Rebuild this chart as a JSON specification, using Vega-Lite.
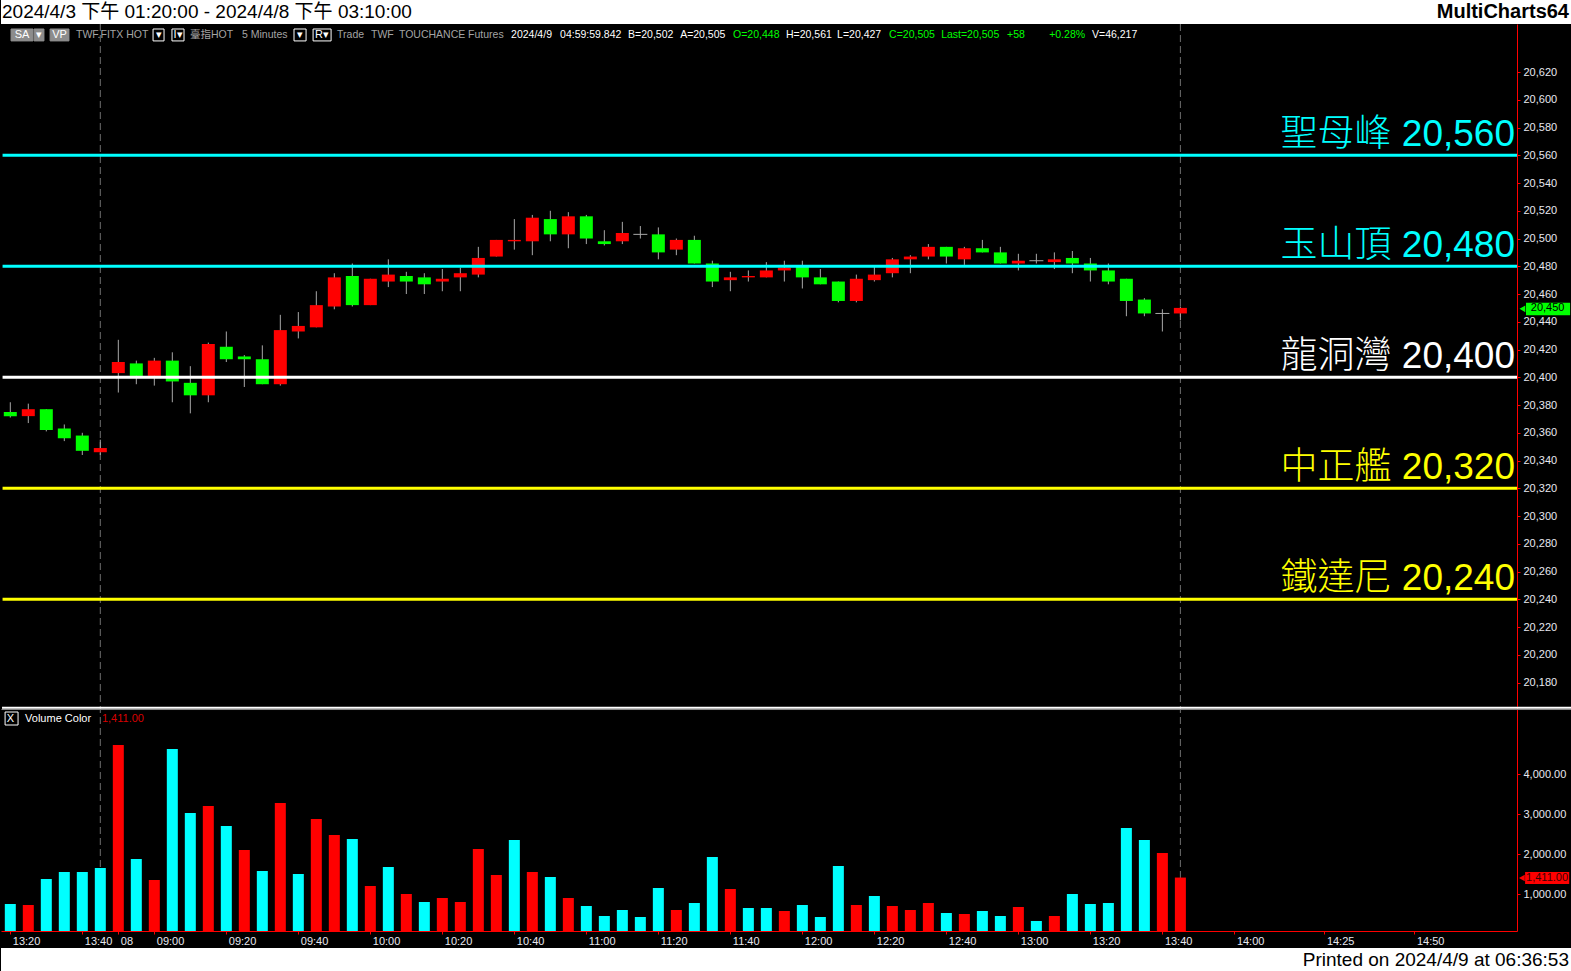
{
  "$schema": "https://vega.github.io/schema/vega-lite/v6.json",
  "background": "#000000",
  "padding": 0,
  "spacing": 0,
  "bounds": "flush",
  "config": {
    "view": {"stroke": null},
    "scale": {"continuousPadding": 0},
    "axis": {"labelOverlap": false, "grid": false, "title": null},
    "font": "Liberation Sans",
    "text": {"font": "Liberation Sans, Noto Sans CJK TC"}
  },
  "datasets": {
    "bars": [
      {"k":0,"o":20375,"h":20382,"l":20371,"c":20372,"v":750,"vc":"down"},
      {"k":1,"o":20372,"h":20381,"l":20367,"c":20377,"v":725,"vc":"up"},
      {"k":2,"o":20377,"h":20377,"l":20361,"c":20362,"v":1375,"vc":"down"},
      {"k":3,"o":20363,"h":20366,"l":20354,"c":20356,"v":1550,"vc":"down"},
      {"k":4,"o":20358,"h":20360,"l":20344,"c":20347,"v":1550,"vc":"down"},
      {"k":5,"o":20346,"h":20355,"l":20344,"c":20349,"v":1650,"vc":"down"},
      {"k":6,"o":20403,"h":20427,"l":20389,"c":20411,"v":4725,"vc":"up"},
      {"k":7,"o":20410,"h":20412,"l":20395,"c":20401,"v":1875,"vc":"down"},
      {"k":8,"o":20401,"h":20414,"l":20394,"c":20412,"v":1350,"vc":"up"},
      {"k":9,"o":20412,"h":20418,"l":20382,"c":20397,"v":4625,"vc":"down"},
      {"k":10,"o":20396,"h":20408,"l":20374,"c":20387,"v":3025,"vc":"down"},
      {"k":11,"o":20387,"h":20425,"l":20382,"c":20424,"v":3200,"vc":"up"},
      {"k":12,"o":20422,"h":20433,"l":20411,"c":20413,"v":2700,"vc":"down"},
      {"k":13,"o":20415,"h":20416,"l":20393,"c":20413,"v":2100,"vc":"up"},
      {"k":14,"o":20413,"h":20423,"l":20395,"c":20395,"v":1575,"vc":"down"},
      {"k":15,"o":20395,"h":20445,"l":20394,"c":20434,"v":3275,"vc":"up"},
      {"k":16,"o":20433,"h":20447,"l":20428,"c":20437,"v":1500,"vc":"down"},
      {"k":17,"o":20436,"h":20462,"l":20436,"c":20452,"v":2875,"vc":"up"},
      {"k":18,"o":20451,"h":20475,"l":20449,"c":20472,"v":2475,"vc":"up"},
      {"k":19,"o":20473,"h":20482,"l":20451,"c":20452,"v":2375,"vc":"down"},
      {"k":20,"o":20452,"h":20471,"l":20452,"c":20471,"v":1200,"vc":"up"},
      {"k":21,"o":20469,"h":20485,"l":20465,"c":20474,"v":1675,"vc":"down"},
      {"k":22,"o":20473,"h":20476,"l":20460,"c":20469,"v":1000,"vc":"up"},
      {"k":23,"o":20472,"h":20475,"l":20460,"c":20467,"v":800,"vc":"down"},
      {"k":24,"o":20469,"h":20478,"l":20462,"c":20471,"v":900,"vc":"up"},
      {"k":25,"o":20472,"h":20479,"l":20462,"c":20475,"v":800,"vc":"up"},
      {"k":26,"o":20474,"h":20494,"l":20472,"c":20486,"v":2125,"vc":"up"},
      {"k":27,"o":20487,"h":20499,"l":20487,"c":20499,"v":1475,"vc":"up"},
      {"k":28,"o":20498,"h":20514,"l":20492,"c":20499,"v":2350,"vc":"down"},
      {"k":29,"o":20498,"h":20517,"l":20488,"c":20515,"v":1550,"vc":"up"},
      {"k":30,"o":20514,"h":20520,"l":20498,"c":20503,"v":1425,"vc":"down"},
      {"k":31,"o":20503,"h":20519,"l":20493,"c":20516,"v":900,"vc":"up"},
      {"k":32,"o":20516,"h":20517,"l":20496,"c":20500,"v":700,"vc":"down"},
      {"k":33,"o":20498,"h":20506,"l":20495,"c":20496,"v":450,"vc":"down"},
      {"k":34,"o":20498,"h":20512,"l":20496,"c":20504,"v":600,"vc":"down"},
      {"k":35,"o":20503,"h":20509,"l":20500,"c":20503,"v":425,"vc":"down"},
      {"k":36,"o":20503,"h":20508,"l":20485,"c":20490,"v":1150,"vc":"down"},
      {"k":37,"o":20492,"h":20500,"l":20488,"c":20499,"v":600,"vc":"up"},
      {"k":38,"o":20499,"h":20502,"l":20482,"c":20482,"v":775,"vc":"down"},
      {"k":39,"o":20482,"h":20484,"l":20465,"c":20469,"v":1925,"vc":"down"},
      {"k":40,"o":20470,"h":20476,"l":20462,"c":20472,"v":1125,"vc":"up"},
      {"k":41,"o":20472,"h":20477,"l":20469,"c":20473,"v":650,"vc":"down"},
      {"k":42,"o":20472,"h":20483,"l":20472,"c":20477,"v":650,"vc":"down"},
      {"k":43,"o":20477,"h":20484,"l":20469,"c":20479,"v":575,"vc":"up"},
      {"k":44,"o":20480,"h":20484,"l":20464,"c":20472,"v":725,"vc":"down"},
      {"k":45,"o":20472,"h":20478,"l":20467,"c":20467,"v":425,"vc":"down"},
      {"k":46,"o":20469,"h":20469,"l":20454,"c":20455,"v":1700,"vc":"down"},
      {"k":47,"o":20455,"h":20474,"l":20454,"c":20471,"v":725,"vc":"up"},
      {"k":48,"o":20470,"h":20480,"l":20469,"c":20474,"v":950,"vc":"down"},
      {"k":49,"o":20475,"h":20486,"l":20472,"c":20485,"v":700,"vc":"up"},
      {"k":50,"o":20485,"h":20488,"l":20475,"c":20487,"v":600,"vc":"up"},
      {"k":51,"o":20487,"h":20496,"l":20485,"c":20494,"v":775,"vc":"up"},
      {"k":52,"o":20494,"h":20494,"l":20482,"c":20487,"v":525,"vc":"down"},
      {"k":53,"o":20485,"h":20494,"l":20481,"c":20493,"v":500,"vc":"up"},
      {"k":54,"o":20493,"h":20499,"l":20490,"c":20490,"v":575,"vc":"down"},
      {"k":55,"o":20490,"h":20494,"l":20482,"c":20482,"v":450,"vc":"down"},
      {"k":56,"o":20482,"h":20489,"l":20477,"c":20484,"v":675,"vc":"up"},
      {"k":57,"o":20484,"h":20489,"l":20482,"c":20484,"v":325,"vc":"down"},
      {"k":58,"o":20483,"h":20490,"l":20478,"c":20485,"v":450,"vc":"up"},
      {"k":59,"o":20486,"h":20491,"l":20475,"c":20482,"v":1000,"vc":"down"},
      {"k":60,"o":20482,"h":20486,"l":20469,"c":20477,"v":750,"vc":"down"},
      {"k":61,"o":20477,"h":20482,"l":20467,"c":20469,"v":775,"vc":"down"},
      {"k":62,"o":20471,"h":20471,"l":20444,"c":20455,"v":2650,"vc":"down"},
      {"k":63,"o":20456,"h":20457,"l":20444,"c":20446,"v":2350,"vc":"down"},
      {"k":64,"o":20446,"h":20449,"l":20433,"c":20446,"v":2025,"vc":"up"},
      {"k":65,"o":20446,"h":20451,"l":20441,"c":20450,"v":1411,"vc":"up"}
    ],
    "levels": [
      {"p":20560,"label":"聖母峰 20,560","tier":"upper"},
      {"p":20480,"label":"玉山頂 20,480","tier":"upper"},
      {"p":20400,"label":"龍洞灣 20,400","tier":"pivot"},
      {"p":20320,"label":"中正艦 20,320","tier":"lower"},
      {"p":20240,"label":"鐵達尼 20,240","tier":"lower"}
    ],
    "info": [
      {"k":3.65,"s":"TWF.FITX HOT","kind":"meta"},
      {"k":9.98,"s":"臺指HOT","kind":"meta"},
      {"k":12.87,"s":"5 Minutes","kind":"meta"},
      {"k":18.15,"s":"Trade","kind":"meta"},
      {"k":20.04,"s":"TWF","kind":"meta"},
      {"k":21.59,"s":"TOUCHANCE","kind":"meta"},
      {"k":25.43,"s":"Futures","kind":"meta"},
      {"k":27.82,"s":"2024/4/9","kind":"quote"},
      {"k":30.54,"s":"04:59:59.842","kind":"quote"},
      {"k":34.32,"s":"B=20,502","kind":"quote"},
      {"k":37.21,"s":"A=20,505","kind":"quote"},
      {"k":40.15,"s":"O=20,448","kind":"up"},
      {"k":43.09,"s":"H=20,561","kind":"quote"},
      {"k":45.93,"s":"L=20,427","kind":"quote"},
      {"k":48.82,"s":"C=20,505","kind":"up"},
      {"k":51.71,"s":"Last=20,505","kind":"up"},
      {"k":55.37,"s":"+58","kind":"up"},
      {"k":57.71,"s":"+0.28%","kind":"up"},
      {"k":60.09,"s":"V=46,217","kind":"quote"}
    ],
    "buttons": [
      {"k1":0.04,"k2":1.26,"km":0.65,"s":"SA","style":"filled"},
      {"k1":1.32,"k2":1.87,"km":1.6,"s":"▾","style":"filled"},
      {"k1":2.21,"k2":3.26,"km":2.74,"s":"VP","style":"filled"},
      {"k1":7.93,"k2":8.54,"km":8.24,"s":"▾","style":"outline"},
      {"k1":8.98,"k2":9.65,"km":9.32,"s":"I▾","style":"outline"},
      {"k1":15.76,"k2":16.43,"km":16.1,"s":"▾","style":"outline"},
      {"k1":16.82,"k2":17.82,"km":17.32,"s":"R▾","style":"outline"}
    ]
  },
  "vconcat": [
    {
      "width": 1571,
      "height": 24,
      "view": {"fill": "#ffffff", "stroke": null},
      "data": {"values": [{"a": "2024/4/3 下午 01:20:00 - 2024/4/8 下午 03:10:00", "b": "MultiCharts64"}]},
      "layer": [
        {
          "mark": {"type": "text", "align": "left", "dx": 1, "fontSize": 19, "color": "#000000"},
          "encoding": {
            "x": {"datum": 0, "type": "quantitative", "scale": {"domain": [0, 1], "nice": false, "zero": false, "padding": 0}, "axis": null},
            "text": {"field": "a"}
          }
        },
        {
          "mark": {"type": "text", "align": "right", "dx": -3, "fontSize": 20, "fontWeight": "bold", "color": "#000000"},
          "encoding": {
            "x": {"datum": 1, "type": "quantitative", "scale": {"domain": [0, 1], "nice": false, "zero": false, "padding": 0}, "axis": null},
            "text": {"field": "b"}
          }
        }
      ]
    },
    {
      "width": 1516,
      "height": 682,
      "data": {"name": "bars"},
      "resolve": {"scale": {"color": "independent"}, "axis": {"y": "independent"}},
      "layer": [
        {
          "data": {"values": [{"k": 5}, {"k": 65}]},
          "mark": {"type": "rule", "stroke": "#6e6e6e", "strokeWidth": 1, "strokeDash": [7, 4]},
          "encoding": {
            "x": {"field": "k", "type": "quantitative", "scale": {"domain": [-0.517, 83.7], "nice": false, "zero": false, "padding": 0}, "axis": null}
          }
        },
        {
          "mark": {"type": "rule", "stroke": "#a8a8a8", "strokeWidth": 1},
          "encoding": {
            "x": {"field": "k", "type": "quantitative", "scale": {"domain": [-0.517, 83.7], "nice": false, "zero": false, "padding": 0}, "axis": null},
            "y": {
              "field": "l", "type": "quantitative",
              "scale": {"domain": [20163.1, 20654.6], "nice": false, "zero": false, "padding": 0},
              "axis": {
                "orient": "right", "title": null, "grid": false,
                "values": [20180,20200,20220,20240,20260,20280,20300,20320,20340,20360,20380,20400,20420,20440,20460,20480,20500,20520,20540,20560,20580,20600,20620],
                "format": ",d", "labelColor": "#e8e8f0", "labelFontSize": 11, "labelFont": "Liberation Sans",
                "labelPadding": 3, "tickSize": 3, "tickColor": "#ff0000", "domainColor": "#ff0000", "domainWidth": 1,
                "labelBound": false, "labelFlush": false, "labelOverlap": false, "labelSeparation": 0
              }
            },
            "y2": {"field": "h"}
          }
        },
        {
          "transform": [{"filter": "datum.o != datum.c"}],
          "mark": {"type": "bar", "size": 13, "orient": "vertical"},
          "encoding": {
            "x": {"field": "k", "type": "quantitative", "scale": {"domain": [-0.517, 83.7], "nice": false, "zero": false, "padding": 0}, "axis": null},
            "y": {"field": "o", "type": "quantitative", "scale": {"domain": [20163.1, 20654.6], "nice": false, "zero": false, "padding": 0}, "axis": null},
            "y2": {"field": "c"},
            "color": {"condition": {"test": "datum.c > datum.o", "value": "#ff0000"}, "value": "#00ff00"}
          }
        },
        {
          "transform": [{"filter": "datum.o == datum.c"}],
          "mark": {"type": "tick", "orient": "horizontal", "size": 14, "thickness": 1, "color": "#a8a8a8", "opacity": 1},
          "encoding": {
            "x": {"field": "k", "type": "quantitative", "scale": {"domain": [-0.517, 83.7], "nice": false, "zero": false, "padding": 0}, "axis": null},
            "y": {"field": "o", "type": "quantitative", "scale": {"domain": [20163.1, 20654.6], "nice": false, "zero": false, "padding": 0}, "axis": null}
          }
        },
        {
          "data": {"name": "levels"},
          "mark": {"type": "rule", "strokeWidth": 3},
          "encoding": {
            "x": {"datum": -0.43, "type": "quantitative", "scale": {"domain": [-0.517, 83.7], "nice": false, "zero": false, "padding": 0}, "axis": null},
            "x2": {"datum": 83.7},
            "y": {"field": "p", "type": "quantitative", "scale": {"domain": [20163.1, 20654.6], "nice": false, "zero": false, "padding": 0}, "axis": null},
            "color": {"field": "tier", "type": "nominal", "scale": {"domain": ["upper", "pivot", "lower"], "range": ["#00ffff", "#ffffff", "#ffff00"]}, "legend": null}
          }
        },
        {
          "data": {"name": "levels"},
          "mark": {"type": "text", "align": "right", "baseline": "alphabetic", "dy": -9, "fontSize": 37, "fontWeight": 300},
          "encoding": {
            "x": {"datum": 83.59, "type": "quantitative", "scale": {"domain": [-0.517, 83.7], "nice": false, "zero": false, "padding": 0}, "axis": null},
            "y": {"field": "p", "type": "quantitative", "scale": {"domain": [20163.1, 20654.6], "nice": false, "zero": false, "padding": 0}, "axis": null},
            "text": {"field": "label"},
            "color": {"field": "tier", "type": "nominal", "scale": {"domain": ["upper", "pivot", "lower"], "range": ["#00ffff", "#ffffff", "#ffff00"]}, "legend": null}
          }
        },
        {
          "data": {"name": "buttons"},
          "mark": {"type": "rect", "strokeWidth": 1},
          "encoding": {
            "x": {"field": "k1", "type": "quantitative", "scale": {"domain": [-0.517, 83.7], "nice": false, "zero": false, "padding": 0}, "axis": null},
            "x2": {"field": "k2"},
            "y": {"datum": 20651.0, "type": "quantitative", "scale": {"domain": [20163.1, 20654.6], "nice": false, "zero": false, "padding": 0}, "axis": null},
            "y2": {"datum": 20642.4},
            "fill": {"condition": {"test": "datum.style == 'filled'", "value": "#8c8c8c"}, "value": "#000000"},
            "stroke": {"condition": {"test": "datum.style == 'filled'", "value": "#8c8c8c"}, "value": "#ffffff"}
          }
        },
        {
          "data": {"name": "buttons"},
          "mark": {"type": "text", "align": "center", "fontSize": 11, "color": "#ffffff"},
          "encoding": {
            "x": {"field": "km", "type": "quantitative", "scale": {"domain": [-0.517, 83.7], "nice": false, "zero": false, "padding": 0}, "axis": null},
            "y": {"datum": 20646.7, "type": "quantitative", "scale": {"domain": [20163.1, 20654.6], "nice": false, "zero": false, "padding": 0}, "axis": null},
            "text": {"field": "s"}
          }
        },
        {
          "data": {"name": "info"},
          "mark": {"type": "text", "align": "left", "fontSize": 10.5},
          "encoding": {
            "x": {"field": "k", "type": "quantitative", "scale": {"domain": [-0.517, 83.7], "nice": false, "zero": false, "padding": 0}, "axis": null},
            "y": {"datum": 20646.7, "type": "quantitative", "scale": {"domain": [20163.1, 20654.6], "nice": false, "zero": false, "padding": 0}, "axis": null},
            "text": {"field": "s"},
            "color": {"field": "kind", "type": "nominal", "scale": {"domain": ["meta", "quote", "up"], "range": ["#a4a4a4", "#ffffff", "#00ff00"]}, "legend": null}
          }
        },
        {
          "data": {"values": [{"last": 20450}]},
          "mark": {"type": "rect", "fill": "#00ff00"},
          "encoding": {
            "x": {"datum": 84.2, "type": "quantitative", "scale": {"domain": [-0.517, 83.7], "nice": false, "zero": false, "padding": 0}, "axis": null},
            "x2": {"datum": 86.65},
            "y": {"datum": 20453.8, "type": "quantitative", "scale": {"domain": [20163.1, 20654.6], "nice": false, "zero": false, "padding": 0}, "axis": null},
            "y2": {"datum": 20444.7}
          }
        },
        {
          "data": {"values": [{"last": 20450}]},
          "mark": {"type": "point", "shape": "triangle-left", "filled": true, "color": "#00ff00", "size": 45, "opacity": 1},
          "encoding": {
            "x": {"datum": 84.0, "type": "quantitative", "scale": {"domain": [-0.517, 83.7], "nice": false, "zero": false, "padding": 0}, "axis": null},
            "y": {"datum": 20449.3, "type": "quantitative", "scale": {"domain": [20163.1, 20654.6], "nice": false, "zero": false, "padding": 0}, "axis": null}
          }
        },
        {
          "data": {"values": [{"last": 20450}]},
          "mark": {"type": "text", "align": "center", "fontSize": 11, "color": "#000000"},
          "encoding": {
            "x": {"datum": 85.4, "type": "quantitative", "scale": {"domain": [-0.517, 83.7], "nice": false, "zero": false, "padding": 0}, "axis": null},
            "y": {"field": "last", "type": "quantitative", "scale": {"domain": [20163.1, 20654.6], "nice": false, "zero": false, "padding": 0}, "axis": null},
            "text": {"field": "last", "format": ",d"}
          }
        }
      ]
    },
    {
      "width": 1516,
      "height": 225,
      "data": {"name": "bars"},
      "resolve": {"scale": {"color": "independent"}},
      "layer": [
        {
          "data": {"values": [{"k": 5}, {"k": 65}]},
          "mark": {"type": "rule", "stroke": "#6e6e6e", "strokeWidth": 1, "strokeDash": [7, 4]},
          "encoding": {
            "x": {
              "field": "k", "type": "quantitative",
              "scale": {"domain": [-0.517, 83.7], "nice": false, "zero": false, "padding": 0},
              "axis": {
                "orient": "bottom", "title": null, "grid": false, "zindex": 1,
                "values": [0,4,6,8,12,16,20,24,28,32,36,40,44,48,52,56,60,64,68,73,78],
                "labelExpr": "datum.value==0?'13:20':datum.value==4?'13:40':datum.value==6?'08':datum.value==8?'09:00':datum.value==12?'09:20':datum.value==16?'09:40':datum.value==20?'10:00':datum.value==24?'10:20':datum.value==28?'10:40':datum.value==32?'11:00':datum.value==36?'11:20':datum.value==40?'11:40':datum.value==44?'12:00':datum.value==48?'12:20':datum.value==52?'12:40':datum.value==56?'13:00':datum.value==60?'13:20':datum.value==64?'13:40':datum.value==68?'14:00':datum.value==73?'14:25':'14:50'",
                "labelAlign": "left", "labelOffset": 2, "labelPadding": 1, "labelBaseline": "top",
                "labelColor": "#e8e8f0", "labelFontSize": 11, "labelFont": "Liberation Sans",
                "tickSize": 3, "tickColor": "#ff0000", "domainColor": "#ff0000", "domainWidth": 1,
                "labelOverlap": false, "labelFlush": false, "labelBound": false
              }
            }
          }
        },
        {
          "mark": {"type": "bar", "size": 11, "orient": "vertical", "clip": true},
          "encoding": {
            "x": {
              "field": "k", "type": "quantitative",
              "scale": {"domain": [-0.517, 83.7], "nice": false, "zero": false, "padding": 0},
              "axis": {
                "orient": "bottom", "title": null, "grid": false, "zindex": 1,
                "values": [0,4,6,8,12,16,20,24,28,32,36,40,44,48,52,56,60,64,68,73,78],
                "labelExpr": "datum.value==0?'13:20':datum.value==4?'13:40':datum.value==6?'08':datum.value==8?'09:00':datum.value==12?'09:20':datum.value==16?'09:40':datum.value==20?'10:00':datum.value==24?'10:20':datum.value==28?'10:40':datum.value==32?'11:00':datum.value==36?'11:20':datum.value==40?'11:40':datum.value==44?'12:00':datum.value==48?'12:20':datum.value==52?'12:40':datum.value==56?'13:00':datum.value==60?'13:20':datum.value==64?'13:40':datum.value==68?'14:00':datum.value==73?'14:25':'14:50'",
                "labelAlign": "left", "labelOffset": 2, "labelPadding": 1, "labelBaseline": "top",
                "labelColor": "#e8e8f0", "labelFontSize": 11, "labelFont": "Liberation Sans",
                "tickSize": 3, "tickColor": "#ff0000", "domainColor": "#ff0000", "domainWidth": 1,
                "labelOverlap": false, "labelFlush": false, "labelBound": false
              }
            },
            "y": {
              "field": "v", "type": "quantitative", "stack": null,
              "scale": {"domain": [75, 5700], "nice": false, "zero": false, "padding": 0},
              "axis": {
                "orient": "right", "title": null, "grid": false,
                "values": [1000, 2000, 3000, 4000], "format": ",.2f",
                "labelColor": "#e8e8f0", "labelFontSize": 11, "labelFont": "Liberation Sans",
                "labelPadding": 3, "tickSize": 3, "tickColor": "#ff0000", "domainColor": "#ff0000", "domainWidth": 1,
                "labelBound": false, "labelFlush": false, "labelOverlap": false
              }
            },
            "color": {"field": "vc", "type": "nominal", "scale": {"domain": ["up", "down"], "range": ["#ff0000", "#00ffff"]}, "legend": null}
          }
        },
        {
          "data": {"values": [{"line": "top"}]},
          "mark": {"type": "rule", "stroke": "#ffffff", "strokeWidth": 2},
          "encoding": {
            "x": {"datum": -0.46, "type": "quantitative", "scale": {"domain": [-0.517, 83.7], "nice": false, "zero": false, "padding": 0}},
            "x2": {"datum": 86.75},
            "y": {"datum": 5655, "type": "quantitative", "scale": {"domain": [75, 5700], "nice": false, "zero": false, "padding": 0}}
          }
        },
        {
          "data": {"values": [{"line": "shade"}]},
          "mark": {"type": "rule", "stroke": "#8a8a8a", "strokeWidth": 1},
          "encoding": {
            "x": {"datum": -0.49, "type": "quantitative", "scale": {"domain": [-0.517, 83.7], "nice": false, "zero": false, "padding": 0}},
            "x2": {"datum": 86.75},
            "y": {"datum": 5612, "type": "quantitative", "scale": {"domain": [75, 5700], "nice": false, "zero": false, "padding": 0}}
          }
        },
        {
          "data": {"values": [{"box": "x"}]},
          "mark": {"type": "rect", "fill": "#000000", "stroke": "#ffffff", "strokeWidth": 1},
          "encoding": {
            "x": {"datum": -0.29, "type": "quantitative", "scale": {"domain": [-0.517, 83.7], "nice": false, "zero": false, "padding": 0}},
            "x2": {"datum": 0.43},
            "y": {"datum": 5550, "type": "quantitative", "scale": {"domain": [75, 5700], "nice": false, "zero": false, "padding": 0}},
            "y2": {"datum": 5225}
          }
        },
        {
          "data": {"values": [{"t": "X", "k": -0.2, "kind": "box"}, {"t": "Volume Color", "k": 0.82, "kind": "name"}, {"t": "1,411.00", "k": 5.09, "kind": "value"}]},
          "mark": {"type": "text", "align": "left", "fontSize": 11},
          "encoding": {
            "x": {"field": "k", "type": "quantitative", "scale": {"domain": [-0.517, 83.7], "nice": false, "zero": false, "padding": 0}},
            "y": {"datum": 5387, "type": "quantitative", "scale": {"domain": [75, 5700], "nice": false, "zero": false, "padding": 0}},
            "text": {"field": "t"},
            "color": {"field": "kind", "type": "nominal", "scale": {"domain": ["box", "name", "value"], "range": ["#ffffff", "#ffffff", "#d80000"]}, "legend": null}
          }
        },
        {
          "data": {"values": [{"vol": 1411}]},
          "mark": {"type": "rect", "fill": "#ff0000"},
          "encoding": {
            "x": {"datum": 84.15, "type": "quantitative", "scale": {"domain": [-0.517, 83.7], "nice": false, "zero": false, "padding": 0}},
            "x2": {"datum": 86.6},
            "y": {"datum": 1550, "type": "quantitative", "scale": {"domain": [75, 5700], "nice": false, "zero": false, "padding": 0}},
            "y2": {"datum": 1250}
          }
        },
        {
          "data": {"values": [{"vol": 1411}]},
          "mark": {"type": "point", "shape": "triangle-left", "filled": true, "color": "#ff0000", "size": 45, "opacity": 1},
          "encoding": {
            "x": {"datum": 83.97, "type": "quantitative", "scale": {"domain": [-0.517, 83.7], "nice": false, "zero": false, "padding": 0}},
            "y": {"datum": 1400, "type": "quantitative", "scale": {"domain": [75, 5700], "nice": false, "zero": false, "padding": 0}}
          }
        },
        {
          "data": {"values": [{"vol": 1411}]},
          "mark": {"type": "text", "align": "center", "fontSize": 11, "color": "#3a0000"},
          "encoding": {
            "x": {"datum": 85.37, "type": "quantitative", "scale": {"domain": [-0.517, 83.7], "nice": false, "zero": false, "padding": 0}},
            "y": {"field": "vol", "type": "quantitative", "scale": {"domain": [75, 5700], "nice": false, "zero": false, "padding": 0}},
            "text": {"field": "vol", "format": ",.2f"}
          }
        }
      ]
    },
    {
      "width": 1571,
      "height": 40,
      "data": {"values": [{"s": "Printed on 2024/4/9 at 06:36:53"}]},
      "layer": [
        {
          "mark": {"type": "rect", "fill": "#ffffff"},
          "encoding": {
            "x": {"datum": 0, "type": "quantitative", "scale": {"domain": [0, 1], "nice": false, "zero": false, "padding": 0}, "axis": null},
            "x2": {"datum": 1},
            "y": {"datum": 0, "type": "quantitative", "scale": {"domain": [0, 40], "nice": false, "zero": false, "padding": 0}, "axis": null},
            "y2": {"datum": 23}
          }
        },
        {
          "mark": {"type": "text", "align": "right", "dx": -3, "fontSize": 19, "color": "#000000"},
          "encoding": {
            "x": {"datum": 1, "type": "quantitative", "scale": {"domain": [0, 1], "nice": false, "zero": false, "padding": 0}, "axis": null},
            "y": {"datum": 11.5, "type": "quantitative", "scale": {"domain": [0, 40], "nice": false, "zero": false, "padding": 0}, "axis": null},
            "text": {"field": "s"}
          }
        }
      ]
    }
  ]
}
